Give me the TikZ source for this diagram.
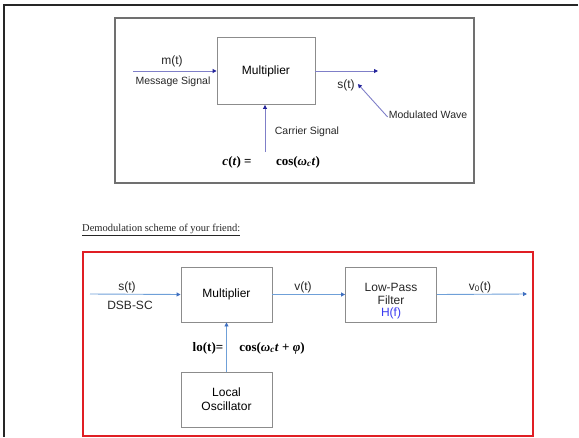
\documentclass[tikz,border=0pt]{standalone}
\usepackage{fontspec}
\setmainfont{Liberation Sans}
\newfontfamily\tnr{Liberation Serif}
\usepackage{xcolor}
\usetikzlibrary{positioning,arrows.meta}
\definecolor{navyline}{HTML}{7F7FC8}
\definecolor{navytip}{HTML}{23239A}
\definecolor{skyline}{HTML}{6FA0D8}
\definecolor{skytip}{HTML}{3F6FC0}
\definecolor{boxgray}{HTML}{8C8C8C}
\definecolor{hblue}{HTML}{3A3AF0}
\definecolor{framered}{HTML}{E01E24}
\tikzset{
  block/.style={draw=boxgray, line width=0.9pt, minimum width=#1, minimum height=55pt, font=\fontsize{12}{14}\selectfont, align=center, inner sep=1pt},
  block/.default=91pt,
  lbl/.style={font=\fontsize{12}{14}\selectfont, inner sep=0pt, text=black!85},
  slbl/.style={font=\fontsize{10.5}{12}\selectfont, inner sep=0pt, text=black!85},
  eqn/.style={font=\tnr\bfseries\fontsize{13}{15}\selectfont, inner sep=0pt},
  topsig/.style={draw=navyline, line width=0.9pt, -{Triangle[length=4pt,width=4pt,fill=navytip,color=navytip]}},
  botsig/.style={draw=skyline, line width=0.9pt, -{Triangle[length=4pt,width=4pt,fill=skytip,color=skytip]}},
}
\begin{document}
\begin{tikzpicture}[x=1pt, y=-1pt]
\useasboundingbox (0,0) rectangle (579,437);
% page frame (top and left only)
\draw[line width=1.2pt, black!85] (578,5) -- (4,5) -- (4,437);
% modulator
\draw[boxgray!80!black, line width=1.2pt] (115,18) rectangle (474,183);
\node[block=98pt, minimum height=67pt] (mult1) at (266,71) {Multiplier};
\coordinate (msrc) at (133,71);
\coordinate (sdst) at (378,71);
\coordinate (csrc) at (265,152);
\draw[topsig] (msrc) -- (mult1.west);
\draw[topsig] (mult1.east) -- (sdst);
\draw[topsig] (csrc) -- (csrc |- mult1.south);
\node[lbl] (mt) at (172,61) {m(t)};
\node[slbl] (msg) at (173,82) {Message Signal};
\node[lbl] (st) at (346,85) {s(t)};
\node[slbl] (modwave) at (428,115) {Modulated Wave};
\node[slbl] (carrier) at (307,132) {Carrier Signal};
\node[eqn] (ct) at (237,162) {\textit{c}(\textit{t}) =};
\node[eqn] (cosc) at (298,162) {cos(\textit{ω}\textsubscript{\textit{c}}\textit{t})};
\draw[topsig] ([xshift=-1pt,yshift=-6pt]modwave.north west) -- ([xshift=3pt,yshift=1pt]st.east);
% caption
\node[font=\tnr\fontsize{10.5}{12}\selectfont, inner sep=0pt, anchor=west, text=black!85] (caption) at (82,230) {\underline{Demodulation scheme of your friend:}};
% demodulator
\draw[framered, line width=1.3pt] (83,252) rectangle (533,436);
\node[block] (mult2) at (226.5,294.5) {Multiplier};
\node[block] (lpf) at (391,294.5) {};
\node[lbl, align=center] (lpftext) at (391,301) {Low-Pass\\[-1pt]Filter\\[-2pt]\textcolor{hblue}{H(f)}};
\node[block] (osc) at (226.5,399.5) {Local\\Oscillator};
\coordinate (ssrc) at (90,294);
\coordinate (vodst) at (527,294);
\draw[botsig] (ssrc) -- (mult2.west);
\draw[botsig] (mult2.east) -- (lpf.west);
\draw[botsig] (lpf.east) -- (vodst);
\draw[botsig] (osc.north) -- (mult2.south);
\node[lbl] (sdsb) at (127,287) {s(t)};
\node[lbl] (dsbsc) at (130,305) {DSB-SC};
\node[lbl] (vt) at (303,287) {v(t)};
\node[lbl] (vot) at (480,287) {v\textsubscript{0}(t)};
\node[eqn] (lot) at (208,348) {lo(t)=};
\node[eqn] (cosphi) at (272,348) {cos(\textit{ω}\textsubscript{\textit{c}}\textit{t} + \textit{φ})};
\end{tikzpicture}
\end{document}
